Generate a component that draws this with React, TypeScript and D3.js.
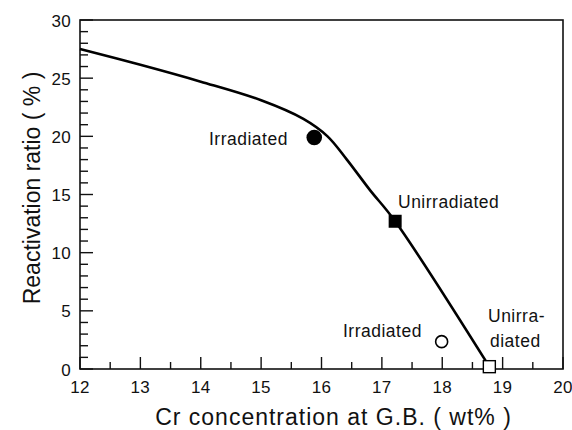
import React from "react";
import * as d3 from "d3";

// Fitted curve through the measurements (Cr wt%, reactivation %)
const curveCr = [12, 13, 14, 15, 15.7, 16.1, 16.42, 16.8, 17.22, 18.78];
const curveRatio = [27.5, 26.15, 24.7, 23.1, 21.5, 20.0, 18.0, 15.4, 12.7, 0.2];

// Measured points
const pointCr = [15.88, 17.22, 17.99, 18.78];
const pointRatio = [19.9, 12.7, 2.35, 0.2];
const pointShape = ["filledCircle", "filledSquare", "openCircle", "openSquare"];

const xTicks = [12, 13, 14, 15, 16, 17, 18, 19, 20];
const yTicks = [0, 5, 10, 15, 20, 25, 30];

const W = 572;
const H = 430;
const left = 80;
const right = 563;
const top = 20;
const bottom = 369;
const font = "'Liberation Sans', Arial, Helvetica, sans-serif";

export default function App() {
  const x = d3.scaleLinear().domain([12, 20]).range([left, right]);
  const y = d3.scaleLinear().domain([0, 30]).range([bottom, top]);

  const curveData = curveCr.map((c, i) => [c, curveRatio[i]] as [number, number]);
  const line = d3
    .line<[number, number]>()
    .x((d) => x(d[0]))
    .y((d) => y(d[1]))
    .curve(d3.curveCatmullRom.alpha(0.5));

  const xMinor = d3.range(12.5, 20, 1);
  const yMinor = d3.range(0, 30, 1).filter((v) => v % 5 !== 0);

  return (
    <svg width={W} height={H} style={{ position: "absolute", left: 0, top: 0, background: "#fff" }}>
      {/* frame */}
      <rect x={left} y={top} width={right - left} height={bottom - top} fill="none" stroke="#111" strokeWidth={1.6} />

      {/* x ticks */}
      {xTicks.map((t) => (
        <g key={"xt" + t}>
          <line x1={x(t)} x2={x(t)} y1={bottom} y2={bottom - 12} stroke="#111" strokeWidth={1.4} />
          <text x={x(t)} y={393} textAnchor="middle" fontFamily={font} fontSize={17} letterSpacing={0.3} fill="#111">
            {t}
          </text>
        </g>
      ))}
      {xMinor.map((t) => (
        <line key={"xm" + t} x1={x(t)} x2={x(t)} y1={bottom} y2={bottom - 7} stroke="#111" strokeWidth={1.4} />
      ))}

      {/* y ticks */}
      {yTicks.map((t) => (
        <g key={"yt" + t}>
          <line x1={left} x2={left + 13} y1={y(t)} y2={y(t)} stroke="#111" strokeWidth={1.4} />
          <text x={71} y={y(t) + 6.5} textAnchor="end" fontFamily={font} fontSize={17} letterSpacing={0.3} fill="#111">
            {t}
          </text>
        </g>
      ))}
      {yMinor.map((t) => (
        <line key={"ym" + t} x1={left} x2={left + 8} y1={y(t)} y2={y(t)} stroke="#111" strokeWidth={1.4} />
      ))}

      {/* curve */}
      <path d={line(curveData) || ""} fill="none" stroke="#000" strokeWidth={2.6} />

      {/* points */}
      {pointCr.map((c, i) => {
        const px = x(c);
        const py = y(pointRatio[i]);
        const s = pointShape[i];
        if (s === "filledCircle") return <circle key={i} cx={px} cy={py} r={7.8} fill="#000" />;
        if (s === "openCircle")
          return <circle key={i} cx={px} cy={py} r={6} fill="#fff" stroke="#000" strokeWidth={1.6} />;
        if (s === "filledSquare")
          return <rect key={i} x={px - 6.5} y={py - 6.5} width={13} height={13} fill="#000" />;
        return (
          <rect key={i} x={px - 6} y={py - 6} width={12} height={12} fill="#fff" stroke="#000" strokeWidth={1.4} />
        );
      })}

      {/* annotations */}
      <g fontFamily={font} fontSize={17.5} letterSpacing={0.5} fill="#111">
        <text x={209} y={145}>Irradiated</text>
        <text x={398} y={208}>Unirradiated</text>
        <text x={343} y={337}>Irradiated</text>
        <text x={488} y={322}>Unirra-</text>
        <text x={490} y={347}>diated</text>
      </g>

      {/* axis titles */}
      <text
        x={(152 + 515) / 2}
        y={425}
        textAnchor="middle"
        fontFamily={font}
        fontSize={23}
        letterSpacing={1}
        fill="#111"
      >
        Cr concentration at G.B. ( wt% )
      </text>
      <text
        transform={`translate(40, 188) rotate(-90)`}
        textAnchor="middle"
        fontFamily={font}
        fontSize={23}
        fill="#111"
      >
        Reactivation ratio ( % )
      </text>
    </svg>
  );
}
